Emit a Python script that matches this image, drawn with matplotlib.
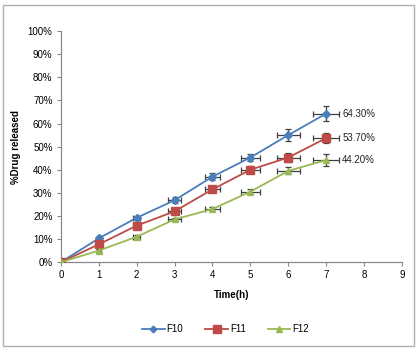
import matplotlib
matplotlib.use("Agg")
import matplotlib.pyplot as plt
from matplotlib.patches import Rectangle
from matplotlib.ticker import FuncFormatter

time_h = [0, 1, 2, 3, 4, 5, 6, 7]
f10 = [0, 10.3, 19.2, 26.8, 37.0, 45.3, 55.0, 64.3]
f11 = [0, 7.7, 15.8, 22.0, 31.5, 40.0, 45.3, 53.7]
f12 = [0, 5.0, 11.0, 18.5, 23.0, 30.5, 39.5, 44.2]
f10_yerr = [0, 0.8, 0.8, 1.2, 1.5, 1.5, 2.5, 3.2]
f11_yerr = [0, 0.8, 0.8, 1.2, 1.2, 1.5, 1.8, 2.0]
f12_yerr = [0, 0.5, 0.6, 0.8, 1.0, 1.0, 1.5, 2.5]
x_err = [0, 0.05, 0.1, 0.18, 0.2, 0.25, 0.3, 0.34]
end_labels = ["64.30%", "53.70%", "44.20%"]
series_names = ["F10", "F11", "F12"]

plt.rcParams['font.family'] = ['Liberation Sans', 'DejaVu Sans']

fig = plt.figure(figsize=(4.2, 3.5), dpi=100)
ax = fig.add_axes([0.145, 0.251, 0.812, 0.66])

colors = ["#4a7ebb", "#be4b48", "#98b954"]
markers = ["D", "s", "^"]
msizes = [4, 6, 5]
for ys, yerr, c, m, ms, name in zip([f10, f11, f12], [f10_yerr, f11_yerr, f12_yerr],
                                   colors, markers, msizes, series_names):
    ax.errorbar(time_h, ys, yerr=yerr, xerr=x_err, fmt='none', ecolor='#404040',
                elinewidth=0.9, capsize=2, capthick=0.9, zorder=2)
    ax.plot(time_h, ys, color=c, marker=m, markersize=ms, linewidth=1.3,
            label=name, zorder=3)

for ys, lab in zip([f10, f11, f12], end_labels):
    ax.text(time_h[-1] + 0.42, ys[-1], lab, fontsize=7, va='center', ha='left',
            color='#222222')

ax.set_xlim(0, 9)
ax.set_ylim(0, 100)
ax.set_xticks(range(0, 10))
ax.set_yticks(range(0, 101, 10))
ax.yaxis.set_major_formatter(FuncFormatter(lambda v, p: f"{int(v)}%"))
ax.tick_params(labelsize=7, length=3, color='#888888', width=0.8, pad=3)
for s in ['top', 'right']:
    ax.spines[s].set_visible(False)
for s in ['left', 'bottom']:
    ax.spines[s].set_color('#888888')
    ax.spines[s].set_linewidth(0.9)

ax.set_xlabel("Time(h)", fontsize=7, fontweight='bold', labelpad=7)
ax.set_ylabel("%Drug released", fontsize=7, fontweight='bold', labelpad=5)

fig.legend(loc='center', bbox_to_anchor=(0.537, 0.06), ncol=3, frameon=False,
           fontsize=7, handlelength=2.3, columnspacing=2.3, handletextpad=0.2,
           markerscale=0.85)

fig.patches.append(Rectangle((3/420, 4/350), 411/420, 341/350, transform=fig.transFigure,
                             fill=False, edgecolor='#b0b0b0', linewidth=1.0))

fig.savefig("out.png", dpi=100)
